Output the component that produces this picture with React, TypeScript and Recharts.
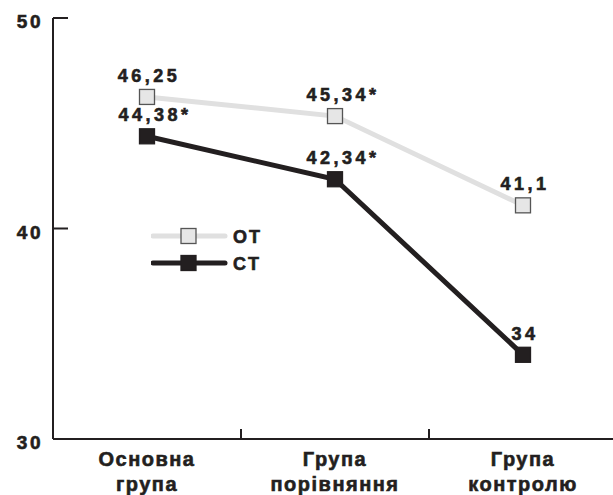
import React from "react";
import { LineChart, Line, XAxis, YAxis, Legend, LabelList } from "recharts";

const categories = ["Основна група", "Група порівняння", "Група контролю"];
const otValues = [46.25, 45.34, 41.1];
const ctValues = [44.38, 42.34, 34];
const otLabels = ["46,25", "45,34*", "41,1"];
const ctLabels = ["44,38*", "42,34*", "34"];
const yTicks = [30, 40, 50];

const W = 613;
const H = 495;
const MARGIN = { top: 18, right: -4, bottom: 0, left: 0 };
const Y_AXIS_W = 53;
const X_AXIS_H = 56;
const BAND = (W - MARGIN.left - MARGIN.right - Y_AXIS_W) / categories.length;

const INK = "#231f20";
const OT_LINE = "#e0e0e0";
const OT_FILL = "#e6e6e6";
const FONT = "'Liberation Sans', Arial, sans-serif";

// heavy bold text, the source uses a blacker sans than Liberation Bold
const txt = {
  fontFamily: FONT,
  fontWeight: "bold",
  fill: INK,
  stroke: INK,
  strokeWidth: 0.6,
} as const;

const data = categories.map((name, i) => ({
  name,
  ot: otValues[i],
  ct: ctValues[i],
  otLabel: otLabels[i],
  ctLabel: ctLabels[i],
}));

const YTick = ({ x, y, payload }: any) => (
  <g>
    <line x1={x} x2={x + 15} y1={y} y2={y} stroke={INK} strokeWidth={2} />
    <text {...txt} x={x - 10} y={y + 10} textAnchor="end" fontSize={19} letterSpacing={2.5}>
      {payload.value}
    </text>
  </g>
);

const XTick = ({ x, y, payload, index }: any) => {
  const [l1, l2] = String(payload.value).split(" ");
  return (
    <g>
      {index < categories.length - 1 && (
        <line x1={x + BAND / 2} x2={x + BAND / 2} y1={y} y2={y - 10} stroke={INK} strokeWidth={2} />
      )}
      <text {...txt} x={x} textAnchor="middle" fontSize={20} letterSpacing={1.5}>
        <tspan x={x} y={y + 27}>{l1}</tspan>
        <tspan x={x} y={y + 52}>{l2}</tspan>
      </text>
    </g>
  );
};

const squareDot = (fill: string, stroke: string) => (props: any) => {
  const { cx, cy, index } = props;
  return (
    <rect
      key={`d-${index}`}
      x={cx - 7.5}
      y={cy - 7.5}
      width={15}
      height={15}
      fill={fill}
      stroke={stroke}
      strokeWidth={1.3}
    />
  );
};

const valueLabel = (props: any) => {
  const { x, y, value, index } = props;
  const star = String(value).endsWith("*");
  return (
    <text
      {...txt}
      key={`l-${index}`}
      x={x + (star ? 6 : 0) + 2}
      y={y - 15}
      textAnchor="middle"
      fontSize={18}
      letterSpacing={3.5}
    >
      {value}
    </text>
  );
};

const LegendBox = () => {
  const rows = [
    { label: "OT", line: OT_LINE, fill: OT_FILL, stroke: "#555" },
    { label: "CT", line: INK, fill: INK, stroke: INK },
  ];
  return (
    <svg width={130} height={56}>
      {rows.map((r, i) => {
        const cy = 12 + i * 27;
        return (
          <g key={r.label}>
            <line x1={2} x2={74} y1={cy} y2={cy} stroke={r.line} strokeWidth={5} strokeLinecap="round" />
            <rect x={30} y={cy - 7.5} width={15} height={15} fill={r.fill} stroke={r.stroke} strokeWidth={1.3} />
            <text {...txt} x={82} y={cy + 6.5} fontSize={18} letterSpacing={2}>
              {r.label}
            </text>
          </g>
        );
      })}
    </svg>
  );
};

export default function App() {
  return (
    <div style={{ position: "absolute", left: 0, top: 0, width: W, height: H, background: "#fff" }}>
      <LineChart width={W} height={H} data={data} margin={MARGIN}>
        <XAxis
          dataKey="name"
          scale="band"
          interval={0}
          axisLine={{ stroke: INK, strokeWidth: 2 }}
          tickLine={false}
          tickSize={0}
          tickMargin={0}
          height={X_AXIS_H}
          tick={<XTick />}
        />
        <YAxis
          type="number"
          domain={[30, 50]}
          ticks={yTicks}
          width={Y_AXIS_W}
          axisLine={{ stroke: INK, strokeWidth: 2 }}
          tickLine={false}
          tickSize={0}
          tickMargin={0}
          tick={<YTick />}
        />
        <Legend
          layout="vertical"
          align="center"
          verticalAlign="middle"
          content={<LegendBox />}
          wrapperStyle={{ position: "absolute", left: 151, top: 224, width: 130 }}
        />
        <Line
          dataKey="ot"
          stroke={OT_LINE}
          strokeWidth={5}
          dot={squareDot(OT_FILL, "#555")}
          activeDot={false}
          isAnimationActive={false}
        >
          <LabelList dataKey="otLabel" content={valueLabel} />
        </Line>
        <Line
          dataKey="ct"
          stroke={INK}
          strokeWidth={5}
          dot={squareDot(INK, INK)}
          activeDot={false}
          isAnimationActive={false}
        >
          <LabelList dataKey="ctLabel" content={valueLabel} />
        </Line>
      </LineChart>
    </div>
  );
}
